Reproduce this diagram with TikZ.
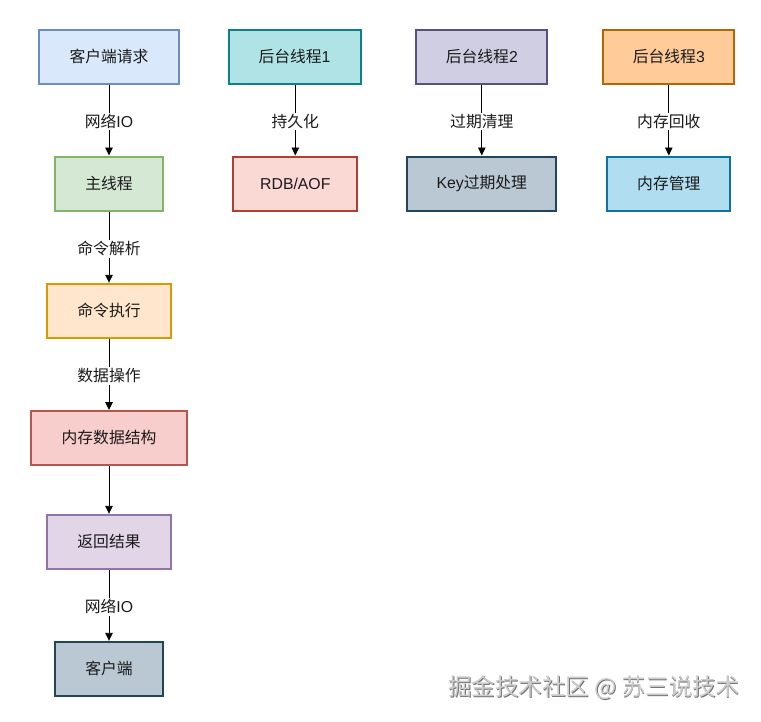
\documentclass[tikz,border=0pt]{standalone}
\usepackage{fontspec}
\setmainfont{Liberation Sans}
\newfontfamily\cjk{Noto Sans CJK SC}
\usetikzlibrary{arrows.meta}
\definecolor{txt}{HTML}{1A1A1A}
\tikzset{
  box/.style={draw, line width=2pt, inner sep=0pt, minimum height=54pt, text=txt, font=\fontsize{15.8}{18}\selectfont},
  lbl/.style={fill=white, inner sep=1.5pt, text=txt, font=\fontsize{15.8}{18}\selectfont},
  arr/.style={draw=black, line width=0.9pt, -{Triangle[width=7.5pt,length=8pt]}},
}
\begin{document}
\begin{tikzpicture}[x=1pt,y=-1pt]
\useasboundingbox (0,0) rectangle (761,721);
% left column
\node[box, fill={rgb,255:red,218;green,232;blue,252}, draw={rgb,255:red,108;green,142;blue,191}, minimum width=140pt] (req) at (109,56.7) {\cjk 客户端请求};
\node[box, fill={rgb,255:red,213;green,232;blue,212}, draw={rgb,255:red,130;green,179;blue,102}, minimum width=107.6pt] (main) at (109,183.5) {\cjk 主线程};
\node[box, fill={rgb,255:red,255;green,230;blue,204}, draw={rgb,255:red,215;green,155;blue,0}, minimum width=123.6pt] (exec) at (109,310.8) {\cjk 命令执行};
\node[box, fill={rgb,255:red,248;green,206;blue,204}, draw={rgb,255:red,184;green,84;blue,80}, minimum width=155.6pt] (mem) at (109,438) {\cjk 内存数据结构};
\node[box, fill={rgb,255:red,225;green,213;blue,231}, draw={rgb,255:red,150;green,115;blue,166}, minimum width=123.6pt] (ret) at (109,541.8) {\cjk 返回结果};
\node[box, fill={rgb,255:red,186;green,200;blue,211}, draw={rgb,255:red,35;green,68;blue,93}, minimum width=107.6pt] (cli) at (109,668.8) {\cjk 客户端};
% background threads
\node[box, fill={rgb,255:red,176;green,227;blue,230}, draw={rgb,255:red,14;green,128;blue,136}, minimum width=132pt] (bg1) at (294.5,56.7) {{\cjk 后台线程}1};
\node[box, fill={rgb,255:red,250;green,217;blue,213}, draw={rgb,255:red,174;green,65;blue,50}, minimum width=124.3pt] (rdb) at (295.3,183.5) {RDB/AOF};
\node[box, fill={rgb,255:red,208;green,206;blue,226}, draw={rgb,255:red,86;green,81;blue,126}, minimum width=131.3pt] (bg2) at (481.8,56.7) {{\cjk 后台线程}2};
\node[box, fill={rgb,255:red,186;green,200;blue,211}, draw={rgb,255:red,35;green,68;blue,93}, minimum width=148.7pt] (key) at (481.8,183.5) {Key{\cjk 过期处理}};
\node[box, fill={rgb,255:red,255;green,204;blue,153}, draw={rgb,255:red,180;green,101;blue,4}, minimum width=131.3pt] (bg3) at (668.8,56.7) {{\cjk 后台线程}3};
\node[box, fill={rgb,255:red,177;green,221;blue,240}, draw={rgb,255:red,16;green,115;blue,158}, minimum width=123.3pt] (mm) at (668.8,183.5) {\cjk 内存管理};
% connectors
\draw[arr] (req) -- node[lbl, midway, yshift=-1.5pt] (l1) {{\cjk 网络}IO} (main);
\draw[arr] (main) -- node[lbl, midway, yshift=-1.5pt] (l2) {\cjk 命令解析} (exec);
\draw[arr] (exec) -- node[lbl, midway, yshift=-1.5pt] (l3) {\cjk 数据操作} (mem);
\draw[arr] (mem) -- (ret);
\draw[arr] (ret) -- node[lbl, midway, yshift=-1.5pt] (l4) {{\cjk 网络}IO} (cli);
\draw[arr] (bg1.south -| rdb) -- node[lbl, midway, yshift=-1.5pt] (l5) {\cjk 持久化} (rdb);
\draw[arr] (bg2) -- node[lbl, midway, yshift=-1.5pt] (l6) {\cjk 过期清理} (key);
\draw[arr] (bg3) -- node[lbl, midway, yshift=-1.5pt] (l7) {\cjk 内存回收} (mm);
% watermark
\node[text=black!55, font=\cjk\fontsize{23.5}{26}\selectfont] (wms) at (594.8,688.8) {掘金技术社区 @ 苏三说技术};
\node[text=black!20, font=\cjk\fontsize{23.5}{26}\selectfont] (wm) at (594,688) {掘金技术社区 @ 苏三说技术};
\end{tikzpicture}
\end{document}
